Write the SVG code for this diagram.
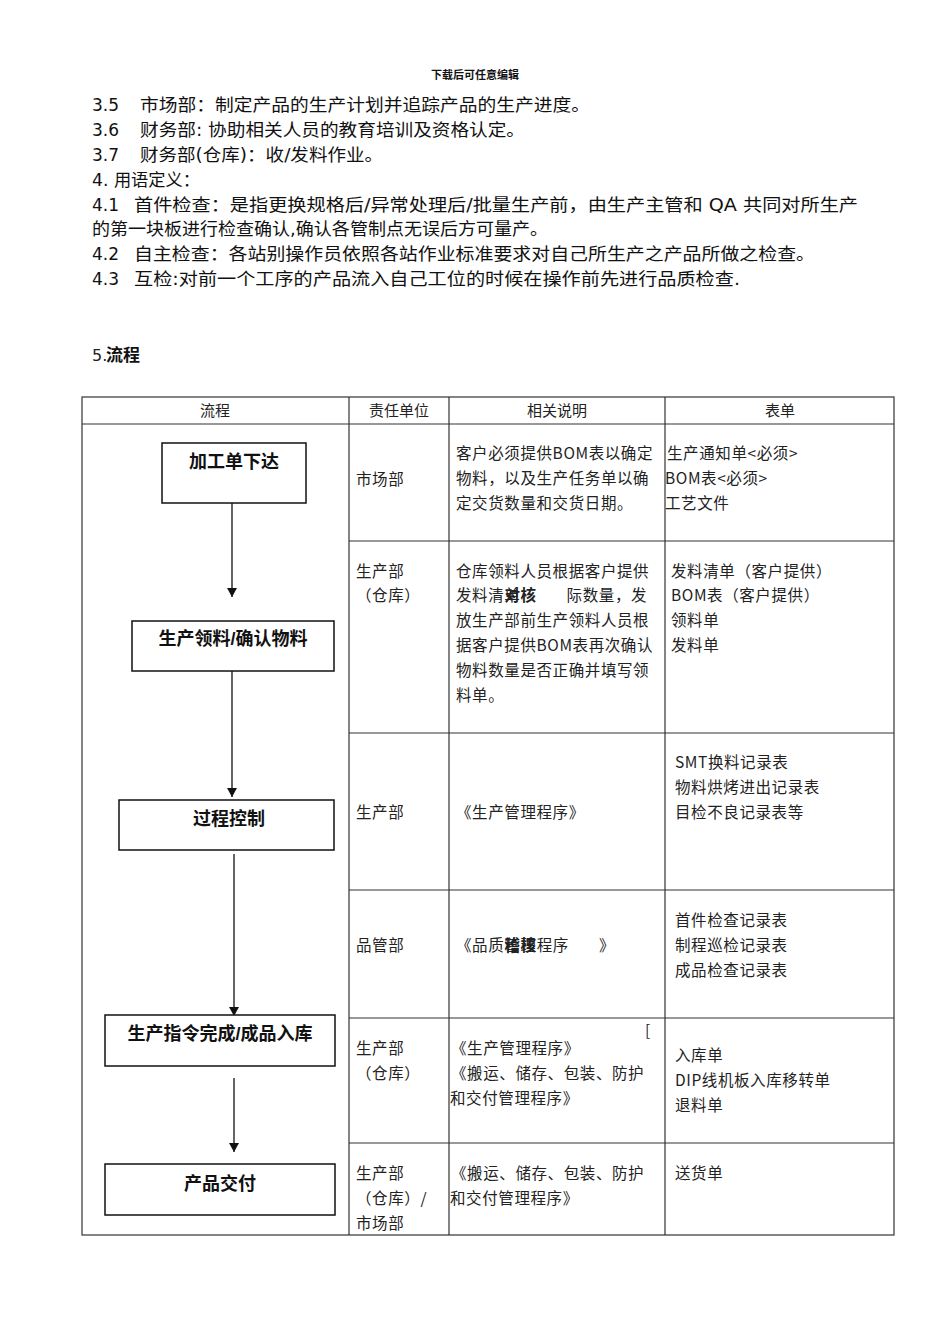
<svg xmlns="http://www.w3.org/2000/svg" width="950" height="1344" viewBox="0 0 950 1344">
<style>
.p{font-family:"DejaVu Sans","Noto Sans CJK SC",sans-serif;font-size:17px;fill:#111}
.t{font-family:"Noto Sans CJK SC","Liberation Serif",serif;font-size:15.5px;fill:#222;letter-spacing:0.6px}
.h{font-family:"Noto Sans CJK SC",sans-serif;font-size:15px;fill:#222;text-anchor:middle}
.b{font-family:"Liberation Sans","Noto Sans CJK SC",sans-serif;font-size:18px;font-weight:bold;fill:#111;text-anchor:middle}
.grid{stroke:#333;stroke-width:1.2;fill:none}
.box{fill:#fff;stroke:#111;stroke-width:1.5}
.edge{stroke:#111;stroke-width:1.3;fill:none}
</style>
<defs>
<marker id="ah" markerWidth="10" markerHeight="10" refX="9" refY="5" orient="auto" markerUnits="userSpaceOnUse">
<path d="M0,0 L9,5 L0,10 Z" fill="#111"/>
</marker>
</defs>
<rect width="950" height="1344" fill="#fff"/>

<g id="header">
<text x="475" y="79" font-family="Noto Sans CJK SC,sans-serif" font-size="11" font-weight="bold" text-anchor="middle" fill="#111">下载后可任意编辑</text>
</g>

<g id="intro">
<text class="p" x="92" y="111">3.5</text><text class="p" x="140" y="111" textLength="450" lengthAdjust="spacingAndGlyphs">市场部：制定产品的生产计划并追踪产品的生产进度。</text>
<text class="p" x="92" y="136">3.6</text><text class="p" x="140" y="136" textLength="385" lengthAdjust="spacingAndGlyphs">财务部: 协助相关人员的教育培训及资格认定。</text>
<text class="p" x="92" y="161">3.7</text><text class="p" x="140" y="161" textLength="243" lengthAdjust="spacingAndGlyphs">财务部(仓库)：收/发料作业。</text>
<text class="p" x="92" y="186" textLength="108" lengthAdjust="spacingAndGlyphs">4. 用语定义：</text>
<text class="p" x="92" y="211">4.1</text><text class="p" x="134" y="211" textLength="724" lengthAdjust="spacingAndGlyphs">首件检查：是指更换规格后/异常处理后/批量生产前，由生产主管和 QA 共同对所生产</text>
<text class="p" x="92" y="235" textLength="456" lengthAdjust="spacingAndGlyphs">的第一块板进行检查确认,确认各管制点无误后方可量产。</text>
<text class="p" x="92" y="260">4.2</text><text class="p" x="134" y="260" textLength="681" lengthAdjust="spacingAndGlyphs">自主检查：各站别操作员依照各站作业标准要求对自己所生产之产品所做之检查。</text>
<text class="p" x="92" y="285">4.3</text><text class="p" x="134" y="285" textLength="606" lengthAdjust="spacingAndGlyphs">互检:对前一个工序的产品流入自己工位的时候在操作前先进行品质检查.</text>
<text x="92" y="361" font-family="DejaVu Sans,sans-serif" font-size="16" fill="#222">5.</text>
<text x="106" y="361" font-family="Noto Sans CJK SC,sans-serif" font-size="17" font-weight="bold" fill="#111">流程</text>
</g>

<g id="table">
<rect class="grid" x="82" y="397" width="812" height="838"/>
<line class="grid" x1="82" y1="424" x2="894" y2="424"/>
<line class="grid" x1="349" y1="397" x2="349" y2="1235"/>
<line class="grid" x1="449" y1="397" x2="449" y2="1235"/>
<line class="grid" x1="665" y1="397" x2="665" y2="1235"/>
<line class="grid" x1="349" y1="541" x2="894" y2="541"/>
<line class="grid" x1="349" y1="733" x2="894" y2="733"/>
<line class="grid" x1="349" y1="890" x2="894" y2="890"/>
<line class="grid" x1="349" y1="1018" x2="894" y2="1018"/>
<line class="grid" x1="349" y1="1143" x2="894" y2="1143"/>
<text class="h" x="215" y="416">流程</text>
<text class="h" x="399" y="416">责任单位</text>
<text class="h" x="557" y="416">相关说明</text>
<text class="h" x="780" y="416">表单</text>
</g>

<g id="row1">
<text class="t" x="356" y="485">市场部</text>
<text class="t" x="456" y="459">客户必须提供BOM表以确定</text>
<text class="t" x="456" y="484">物料，以及生产任务单以确</text>
<text class="t" x="456" y="509">定交货数量和交货日期。</text>
<text class="t" x="667" y="459">生产通知单&lt;必须&gt;</text>
<text class="t" x="665" y="484">BOM表&lt;必须&gt;</text>
<text class="t" x="665" y="509">工艺文件</text>
</g>

<g id="row2">
<text class="t" x="356" y="577">生产部</text>
<text class="t" x="356" y="601">（仓库）</text>
<text class="t" x="456" y="577">仓库领料人员根据客户提供</text>
<text class="t" x="456" y="601">发料清单<tspan dx="-16" font-weight="bold">对核</tspan><tspan dx="30" font-weight="normal">际数量，发</tspan></text>
<text class="t" x="456" y="626">放生产部前生产领料人员根</text>
<text class="t" x="456" y="651">据客户提供BOM表再次确认</text>
<text class="t" x="456" y="676">物料数量是否正确并填写领</text>
<text class="t" x="456" y="701">料单。</text>
<text class="t" x="671" y="577">发料清单（客户提供）</text>
<text class="t" x="671" y="601">BOM表（客户提供）</text>
<text class="t" x="671" y="626">领料单</text>
<text class="t" x="671" y="651">发料单</text>
</g>

<g id="row3">
<text class="t" x="356" y="818">生产部</text>
<text class="t" x="456" y="818">《生产管理程序》</text>
<text class="t" x="675" y="768">SMT换料记录表</text>
<text class="t" x="675" y="793">物料烘烤进出记录表</text>
<text class="t" x="675" y="818">目检不良记录表等</text>
</g>

<g id="row4">
<text class="t" x="356" y="951">品管部</text>
<text class="t" x="456" y="951">《品质管理<tspan dx="-32" font-weight="bold">稽核</tspan><tspan font-weight="normal">程序</tspan><tspan dx="30">》</tspan></text>
<text class="t" x="675" y="926">首件检查记录表</text>
<text class="t" x="675" y="951">制程巡检记录表</text>
<text class="t" x="675" y="976">成品检查记录表</text>
</g>

<g id="row5">
<text class="t" x="356" y="1054">生产部</text>
<text class="t" x="356" y="1079">（仓库）</text>
<text class="t" x="645" y="1036">[</text>
<text class="t" x="451" y="1054">《生产管理程序》</text>
<text class="t" x="451" y="1079">《搬运、储存、包装、防护</text>
<text class="t" x="450" y="1104">和交付管理程序》</text>
<text class="t" x="675" y="1061">入库单</text>
<text class="t" x="675" y="1086">DIP线机板入库移转单</text>
<text class="t" x="675" y="1111">退料单</text>
</g>

<g id="row6">
<text class="t" x="356" y="1179">生产部</text>
<text class="t" x="356" y="1204">（仓库）/</text>
<text class="t" x="356" y="1229">市场部</text>
<text class="t" x="451" y="1179">《搬运、储存、包装、防护</text>
<text class="t" x="450" y="1204">和交付管理程序》</text>
<text class="t" x="675" y="1179">送货单</text>
</g>

<g id="connectors">
<line class="edge" x1="232" y1="500" x2="232" y2="597" marker-end="url(#ah)"/>
<line class="edge" x1="232" y1="671" x2="232" y2="797" marker-end="url(#ah)"/>
<line class="edge" x1="234" y1="854" x2="234" y2="1016" marker-end="url(#ah)"/>
<line class="edge" x1="234" y1="1078" x2="234" y2="1152" marker-end="url(#ah)"/>
</g>

<g id="n1"><rect class="box" x="162" y="443" width="144" height="60"/><text class="b" x="234" y="468">加工单下达</text></g>
<g id="n2"><rect class="box" x="132" y="621" width="202" height="50"/><text class="b" x="233" y="645">生产领料/确认物料</text></g>
<g id="n3"><rect class="box" x="119" y="800" width="215" height="50"/><text class="b" x="229" y="825">过程控制</text></g>
<g id="n4"><rect class="box" x="105" y="1015" width="230" height="51"/><text class="b" x="220" y="1040">生产指令完成/成品入库</text></g>
<g id="n5"><rect class="box" x="105" y="1164" width="230" height="51"/><text class="b" x="220" y="1190">产品交付</text></g>
</svg>
